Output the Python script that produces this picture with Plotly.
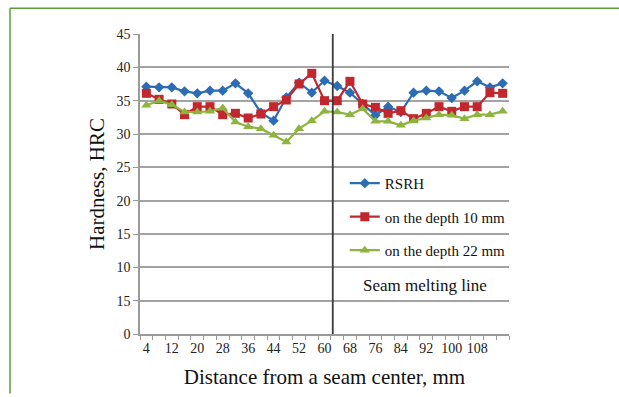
import plotly.graph_objects as go

distance = [4, 8, 12, 16, 20, 24, 28, 32, 36, 40, 44, 48, 52, 56, 60,
            64, 68, 72, 76, 80, 84, 88, 92, 96, 100, 104, 108, 112, 116]
rsrh = [37.1, 37.0, 37.0, 36.4, 36.1, 36.5, 36.5, 37.6, 36.1, 33.2, 32.0, 35.5, 37.7, 36.2, 38.0,
        37.2, 36.2, 34.5, 32.8, 34.1, 33.3, 36.2, 36.5, 36.4, 35.4, 36.5, 37.9, 37.0, 37.6]
depth10 = [36.1, 35.2, 34.5, 32.9, 34.1, 34.1, 32.9, 33.1, 32.4, 33.0, 34.1, 35.1, 37.5, 39.1, 35.0,
           35.0, 37.9, 34.5, 34.0, 33.1, 33.5, 32.3, 33.1, 34.1, 33.4, 34.1, 34.1, 36.2, 36.1]
depth22 = [34.3, 35.0, 34.4, 33.3, 33.3, 33.4, 33.9, 31.8, 31.1, 30.8, 29.8, 28.8, 30.8, 32.0, 33.4,
           33.3, 32.9, 33.8, 31.9, 31.9, 31.3, 32.0, 32.4, 32.9, 32.8, 32.3, 32.9, 32.9, 33.4]

x_tick_labels = ["4", "12", "20", "28", "36", "44", "52", "60", "68", "76", "84", "92", "100", "108"]
y_tick_values = [0, 5, 10, 15, 20, 25, 30, 35, 40, 45]
y_tick_labels = ["0", "15", "10", "15", "20", "25", "30", "35", "40", "45"]

series = [
    ("RSRH", rsrh, "#2b6cb5", "diamond", 8),
    ("on the depth 10 mm", depth10, "#c1272d", "square", 9),
    ("on the depth 22 mm", depth22, "#8db43f", "triangle-up", 9),
]

fig = go.Figure()
for i, (name, vals, color, sym, size) in enumerate(series):
    fig.add_trace(go.Scatter(
        x=distance, y=vals, name=name, mode="lines+markers",
        line=dict(color=color, width=2.2),
        marker=dict(symbol=sym, size=size, color=color),
        legendgroup=f"g{i}",
    ))

font_family = "Liberation Serif"
step = distance[1] - distance[0]
boundaries = [d - step / 2 for d in distance] + [distance[-1] + step / 2]

fig.update_layout(
    width=619, height=397,
    margin=dict(l=140, r=110, t=34, b=60),
    paper_bgcolor="white", plot_bgcolor="white",
    font=dict(family=font_family, color="#222222", size=14),
    showlegend=True,
    legend=dict(x=0.555, y=0.557, xanchor="left", yanchor="top",
                bgcolor="rgba(0,0,0,0)", font=dict(size=15, family=font_family, color="#111111"),
                tracegroupgap=11, itemwidth=30),
    xaxis=dict(
        range=[boundaries[0], boundaries[-1]],
        tickmode="array",
        tickvals=[int(t) for t in x_tick_labels],
        ticktext=x_tick_labels,
        ticks="", showgrid=False, zeroline=False,
        showline=True, linecolor="#9a9a9a", linewidth=1.5,
        tickfont=dict(size=14, family=font_family, color="#222222"),
        minor=dict(tickmode="array", tickvals=boundaries, ticks="outside",
                   ticklen=4, tickcolor="#9a9a9a", tickwidth=1.2, showgrid=False),
        title=dict(text="Distance from a seam center, mm",
                   font=dict(size=21, family=font_family, color="#111111"), standoff=15),
    ),
    yaxis=dict(
        range=[0, 45],
        tickmode="array", tickvals=y_tick_values, ticktext=y_tick_labels,
        ticks="outside", ticklen=5, tickcolor="#9a9a9a", tickwidth=1.2,
        showgrid=True, gridcolor="#a3a3a3", gridwidth=1.5,
        zeroline=False, showline=True, linecolor="#9a9a9a", linewidth=1.5,
        tickfont=dict(size=14, family=font_family, color="#222222"),
        title=dict(text="Hardness, HRC",
                   font=dict(size=21, family=font_family, color="#111111"), standoff=6),
    ),
)

# Seam melting line
fig.add_shape(type="line", xref="x", yref="y", x0=62.6, x1=62.6, y0=0, y1=45,
              line=dict(color="#3a3a3a", width=1.8))
fig.add_annotation(text="Seam melting line", xref="paper", yref="paper",
                   x=0.772, y=0.163, xanchor="center", yanchor="middle", showarrow=False,
                   font=dict(size=17, family=font_family, color="#111111"))

# green frame (top and left edges)
W, H = 619, 397
pl, pr, pt, pb = 140, 110, 34, 60
pw, ph = W - pl - pr, H - pt - pb
def px(xp):
    return (xp - pl) / pw
def py(yp):
    return (H - pb - yp) / ph
fig.add_shape(type="line", xref="paper", yref="paper",
              x0=px(10), x1=px(619), y0=py(8), y1=py(8),
              line=dict(color="#5a9e3a", width=1.5))
fig.add_shape(type="line", xref="paper", yref="paper",
              x0=px(10), x1=px(10), y0=py(8), y1=py(397),
              line=dict(color="#5a9e3a", width=1.5))

fig.write_html("out.html")
